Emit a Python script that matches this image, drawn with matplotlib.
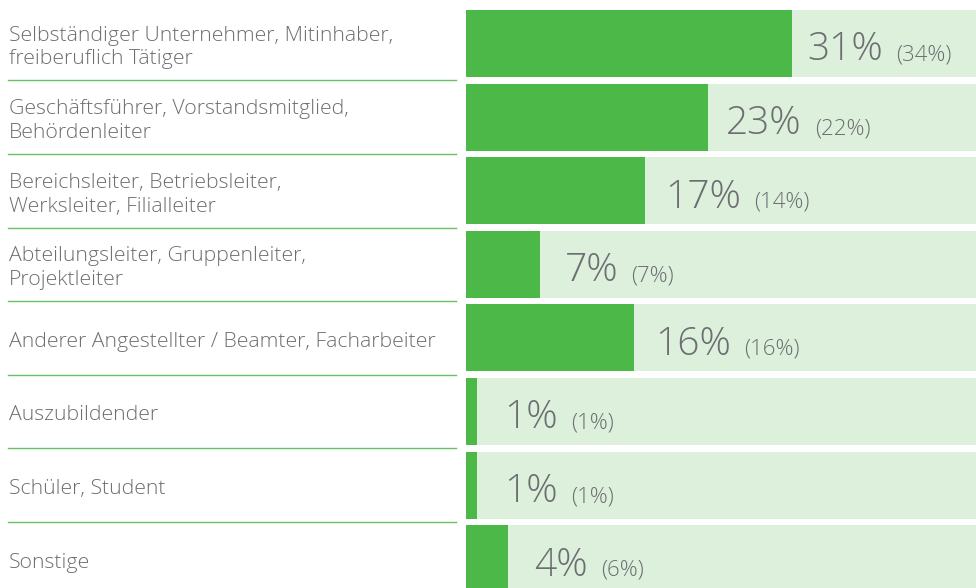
import matplotlib.pyplot as plt
from matplotlib.transforms import offset_copy

plt.rcParams['font.family'] = ['Open Sans', 'DejaVu Sans']
plt.rcParams['font.weight'] = 'light'

labels = [
    'Selbständiger Unternehmer, Mitinhaber,\nfreiberuflich Tätiger',
    'Geschäftsführer, Vorstandsmitglied,\nBehördenleiter',
    'Bereichsleiter, Betriebsleiter,\nWerksleiter, Filialleiter',
    'Abteilungsleiter, Gruppenleiter,\nProjektleiter',
    'Anderer Angestellter / Beamter, Facharbeiter',
    'Auszubildender',
    'Schüler, Student',
    'Sonstige',
]
current = [31, 23, 17, 7, 16, 1, 1, 4]
previous = [34, 22, 14, 7, 16, 1, 1, 6]

GREEN = '#4cb848'
LIGHT = '#dcf0dc'
GRAY = '#6d6e71'

fig = plt.figure(figsize=(9.76, 5.88), dpi=100)
W, H = 976, 588
pitch = 73.6
top_row = 43.5 / pitch
ylim = (H / pitch - top_row, -top_row)

# bars
ax = fig.add_axes([466 / W, 0, 1 - 466 / W, 1])
xmax = 48.5
ys = list(range(len(labels)))
ax.barh(ys, [xmax] * len(ys), height=0.91, color=LIGHT, left=0)
ax.barh(ys, current, height=0.91, color=GREEN)
ax.set_xlim(0, xmax)
ax.set_ylim(*ylim)
ax.axis('off')

fig.canvas.draw()
for y, cur, prev in zip(ys, current, previous):
    # labels sit a bit closer to long bars than to short ones
    x = cur * 0.96
    tr = offset_copy(ax.transData, fig=fig, x=28, y=-17, units='dots')
    t = ax.text(x, y, f'{cur}%', transform=tr, fontsize=28, color=GRAY,
                va='baseline', ha='left')
    fig.canvas.draw()
    bb = t.get_window_extent()
    tr2 = offset_copy(ax.transData, fig=fig, x=28 + bb.width + 13, y=-17,
                      units='dots')
    ax.text(x, y, f'({prev}%)', transform=tr2, fontsize=16, color=GRAY,
            va='baseline', ha='left')

# labels
lax = fig.add_axes([0, 0, 466 / W, 1])
lax.set_xlim(0, 466)
lax.set_ylim(*ylim)
lax.axis('off')
ltr = offset_copy(lax.transData, fig=fig, x=0, y=-4, units='dots')
for y, lab in zip(ys, labels):
    lax.text(9, y, lab, transform=ltr, fontsize=15.3, color=GRAY,
             va='center', ha='left', linespacing=1.25)
for y in ys[:-1]:
    lax.plot([8, 456], [y + 0.5, y + 0.5], color=GREEN, lw=1, alpha=0.85)

fig.savefig('out.png', dpi=100)
